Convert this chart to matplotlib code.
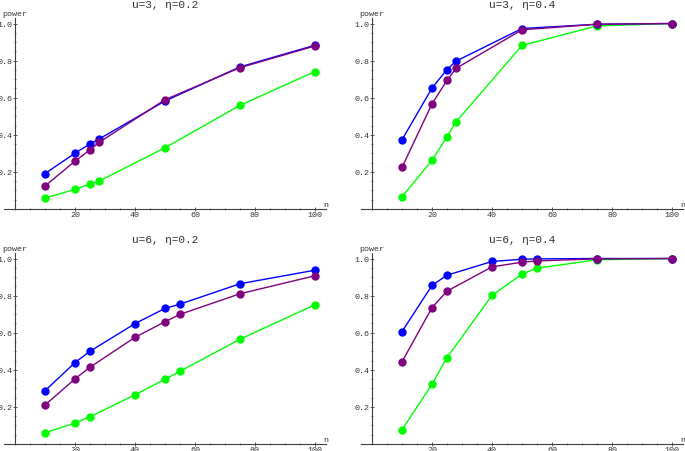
import matplotlib
matplotlib.use('Agg')
import matplotlib.pyplot as plt
from matplotlib.ticker import MultipleLocator, FixedLocator, FixedFormatter

plt.rcParams['font.family'] = ['Liberation Mono', 'DejaVu Sans']

# sample sizes
n_u3 = [10, 20, 25, 28, 50, 75, 100]
n_u6 = [10, 20, 25, 40, 50, 55, 75, 100]

# u=3, eta=0.2
blue_u3_02 = [0.191, 0.301, 0.351, 0.377, 0.582, 0.766, 0.883]
purple_u3_02 = [0.124, 0.258, 0.319, 0.359, 0.589, 0.762, 0.879]
green_u3_02 = [0.059, 0.106, 0.135, 0.150, 0.330, 0.559, 0.741]

# u=3, eta=0.4
blue_u3_04 = [0.373, 0.652, 0.752, 0.797, 0.973, 0.996, 1.0]
purple_u3_04 = [0.224, 0.567, 0.693, 0.758, 0.966, 0.996, 1.0]
green_u3_04 = [0.066, 0.262, 0.390, 0.469, 0.882, 0.987, 1.0]

# u=6, eta=0.2
blue_u6_02 = [0.287, 0.439, 0.500, 0.649, 0.731, 0.754, 0.864, 0.937]
purple_u6_02 = [0.210, 0.351, 0.414, 0.575, 0.659, 0.699, 0.810, 0.907]
green_u6_02 = [0.061, 0.113, 0.147, 0.265, 0.349, 0.392, 0.565, 0.751]

# u=6, eta=0.4
blue_u6_04 = [0.606, 0.855, 0.910, 0.984, 0.996, 0.998, 1.0, 1.0]
purple_u6_04 = [0.443, 0.735, 0.824, 0.955, 0.980, 0.987, 0.998, 1.0]
green_u6_04 = [0.077, 0.321, 0.466, 0.801, 0.916, 0.948, 0.993, 1.0]

panels = [
    ('u=3, η=0.2', n_u3, green_u3_02, blue_u3_02, purple_u3_02, (15, 210)),
    ('u=3, η=0.4', n_u3, green_u3_04, blue_u3_04, purple_u3_04, (372, 210)),
    ('u=6, η=0.2', n_u6, green_u6_02, blue_u6_02, purple_u6_02, (15, 445)),
    ('u=6, η=0.4', n_u6, green_u6_04, blue_u6_04, purple_u6_04, (372, 445)),
]

W, H = 685, 452
fig = plt.figure(figsize=(W / 100, H / 100), dpi=100)

x0, x1 = -3.7, 103.5
y0, y1 = 0.0, 1.03
px_x = 3.0     # pixels per unit n
px_y = 185.5   # pixels per unit power

colors = {'green': (0, 1, 0), 'blue': (0, 0, 1), 'purple': (0.5, 0, 0.5)}

for title, n, g, b, p, (ox, oy) in panels:
    left = ox + x0 * px_x
    bottom = H - oy
    ax = fig.add_axes([left / W, bottom / H,
                       (x1 - x0) * px_x / W, (y1 - y0) * px_y / H])
    ax.set_xlim(x0, x1)
    ax.set_ylim(y0, y1)
    ax.patch.set_alpha(0)

    # green first, purple drawn on top
    for vals, c in [(g, 'green'), (b, 'blue'), (p, 'purple')]:
        ax.plot(n, vals, color=colors[c], lw=1.0, marker='o', ms=5,
                mec=colors[c], mfc=colors[c], clip_on=False)

    ax.spines['top'].set_visible(False)
    ax.spines['right'].set_visible(False)
    ax.spines['left'].set_position(('data', 0))
    ax.spines['bottom'].set_position(('data', 0))
    for s in ['left', 'bottom']:
        ax.spines[s].set_linewidth(0.8)
        ax.spines[s].set_color('0.25')

    ax.xaxis.set_major_locator(FixedLocator([20, 40, 60, 80, 100]))
    ax.xaxis.set_minor_locator(MultipleLocator(5))
    ax.yaxis.set_major_locator(FixedLocator([0.2, 0.4, 0.6, 0.8, 1.0]))
    ax.yaxis.set_major_formatter(FixedFormatter(['0.2', '0.4', '0.6', '0.8', '1.0']))
    ax.yaxis.set_minor_locator(MultipleLocator(0.05))
    ax.tick_params(which='both', direction='inout', colors='0.25',
                   labelcolor='0.2', labelsize=6, pad=0.3)
    ax.tick_params(which='major', length=3, width=0.6)
    ax.tick_params(which='minor', length=1.8, width=0.5)

    ax.text(50, 1.105, title, ha='center', va='center', fontsize=8, color='0.2')
    ax.text(0, 1.055, 'power', ha='center', va='center', fontsize=6, color='0.2')
    ax.text(103.6, 0.004, 'n', ha='center', va='bottom', fontsize=6, color='0.2')

fig.savefig('out.png', dpi=100)
